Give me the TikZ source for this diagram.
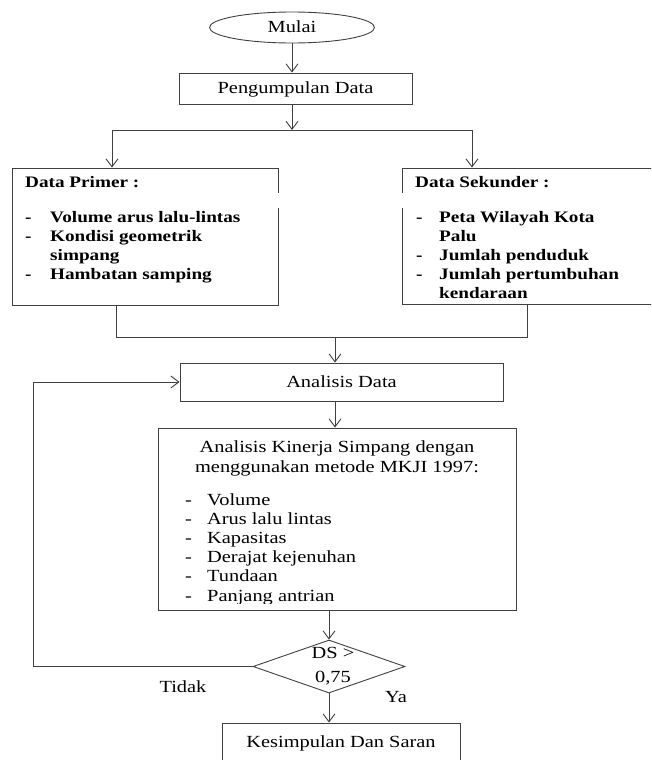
\documentclass[tikz,border=0pt]{standalone}
\usepackage{fontspec}
\setmainfont{Liberation Serif}[FakeStretch=1.2]
\usetikzlibrary{shapes.geometric,arrows.meta}
\newcommand\rfnt{\fontsize{17}{20}\selectfont}
\newcommand\bfnt{\bfseries\fontsize{16}{19}\selectfont}
\newcommand\lfnt{\fontsize{17}{19.2}\selectfont}
\newcommand\dsh[1]{\makebox[#1][l]{-}}
\begin{document}
\begin{tikzpicture}[x=1pt,y=-1pt,
  ln/.style={draw=black!75, line width=0.9pt},
  arr/.style={ln, -{Straight Barb[length=8pt,width=12pt]}},
  box/.style={ln, rectangle, inner sep=0pt, text height=11pt, text depth=1pt, font=\rfnt},
  txt/.style={inner sep=0pt, anchor=base west, align=left}]
\useasboundingbox (0,0) rectangle (651,760);
\clip (0,0) rectangle (651,760);

% nodes
\node[ellipse, ln, minimum width=165pt, minimum height=31pt, inner sep=0pt,
      text height=11pt, text depth=1pt, font=\rfnt] (mulai) at (292,27.5) {Mulai};
\node[box, minimum width=233pt, minimum height=31pt] (pd) at (295.5,88.5) {Pengumpulan Data};
\coordinate (bl) at (112,130);
\coordinate (br) at (472,130);
\node[box, minimum width=266pt, minimum height=137pt] (prim) at (145,236.5) {};
\node[box, minimum width=263pt, minimum height=136pt] (sek) at (533.5,236) {};
\draw[white, line width=2pt] (prim.north east |- 0,193) -- (prim.north east |- 0,208);
\draw[white, line width=2pt] (sek.north west |- 0,193) -- (sek.north west |- 0,208);

% multi-line nodes: base anchor = baseline of last line
\node[txt, font=\bfnt] (primh) at (25,187) {Data Primer :};
\node[txt, font=\bfnt] (priml) at (25,279) {\dsh{25pt}Volume arus lalu-lintas\\
  \dsh{25pt}Kondisi geometrik\\ \hspace*{25pt}simpang\\ \dsh{25pt}Hambatan samping};
\node[txt, font=\bfnt] (sekh) at (415,187) {Data Sekunder :};
\node[txt, font=\bfnt] (sekl) at (416,298) {\dsh{23pt}Peta Wilayah Kota\\
  \hspace*{23pt}Palu\\ \dsh{23pt}Jumlah penduduk\\ \dsh{23pt}Jumlah pertumbuhan\\
  \hspace*{23pt}kendaraan};

\node[box, minimum width=323pt, minimum height=38pt] (ad) at (341.5,382) {Analisis Data};
\node[box, minimum width=358pt, minimum height=182pt] (kin) at (337,519) {};
\node[inner sep=0pt, anchor=base, align=center, font=\rfnt] (kinh) at (337,472)
  {Analisis Kinerja Simpang dengan\\ menggunakan metode MKJI 1997:};
\begin{scope}
  \clip (150,480) rectangle (520,603);
  \node[txt, font=\lfnt] (kinl) at (185,601) {\dsh{22pt}Volume\\ \dsh{22pt}Arus lalu lintas\\
    \dsh{22pt}Kapasitas\\ \dsh{22pt}Derajat kejenuhan\\ \dsh{22pt}Tundaan\\
    \dsh{22pt}Panjang antrian};
\end{scope}

\node[diamond, ln, minimum width=152pt, minimum height=53pt, inner sep=0pt] (dia) at (329,666.5) {};
\node[inner sep=0pt, anchor=base, align=center, font=\fontsize{17}{24}\selectfont] (dtxt) at (333,682) {DS >\\ 0,75};
\node[inner sep=0pt, anchor=base, font=\rfnt] (tidak) at (183,692) {Tidak};
\node[inner sep=0pt, anchor=base, font=\rfnt] (ya) at (396,702) {Ya};
\node[box, minimum width=238pt, minimum height=60pt] (kes) at (341,753) {};
\node[inner sep=0pt, anchor=base, font=\rfnt] (kest) at (341,747) {Kesimpulan Dan Saran};

% connectors
\draw[arr] (mulai.south) -- (mulai.south |- pd.north);
\draw[arr] (pd.south -| mulai.south) -- (mulai.south |- bl);
\draw[ln] (bl) -- (br);
\draw[arr] (bl) -- (bl |- prim.north);
\draw[arr] (br) -- (br |- sek.north);
\coordinate (jl) at (116,337);
\coordinate (jr) at (527,337);
\coordinate (jm) at (335,337);
\draw[ln] (jl |- prim.south) -- (jl) -- (jr) -- (jr |- sek.south);
\draw[arr] (jm) -- (jm |- ad.north);
\draw[arr] (jm |- ad.south) -- (jm |- kin.north);
\draw[arr] (dia |- kin.south) -- (dia.north);
\coordinate (fb) at (33,382);
\draw[arr] (dia.west) -| (fb) -- (ad.west);
\draw[arr] (dia.south) -- (dia |- kes.north);
\end{tikzpicture}
\end{document}
